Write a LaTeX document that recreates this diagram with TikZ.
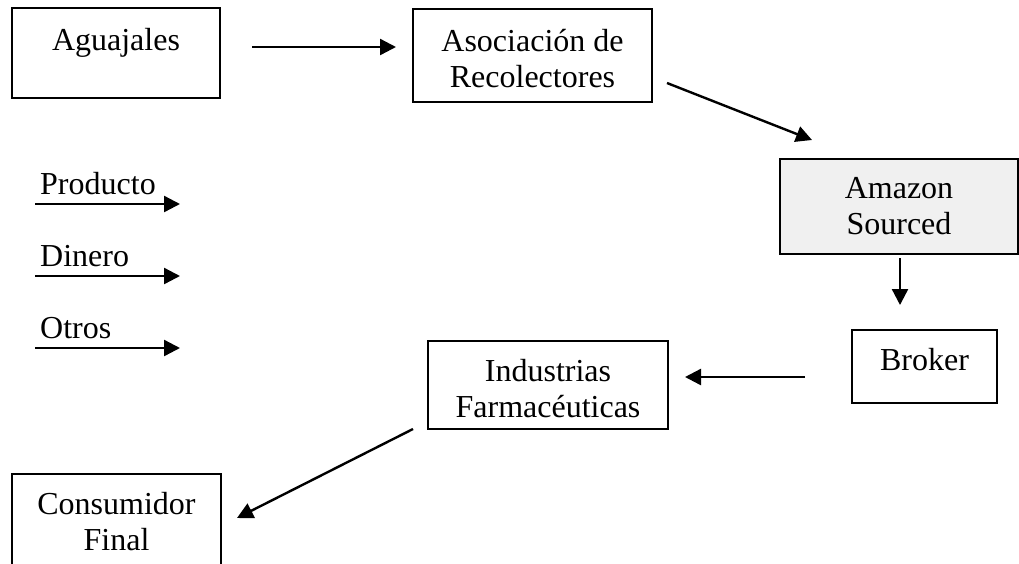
\documentclass[tikz,border=0pt]{standalone}
\usepackage{fontspec}
\setmainfont{Liberation Serif}
\usetikzlibrary{arrows.meta, positioning}
\tikzset{
	caja/.style={draw, line width=1.4pt, inner sep=0pt, align=center, text height=30pt},
	flujo/.style={line width=2.4pt, -{Triangle[length=16pt,width=16pt]}}
}
\newcommand{\lineas}[1]{\begin{tabular}[t]{@{}c@{}}#1\end{tabular}}

\begin{document}
\begin{tikzpicture}[
	x=1pt, y=-1pt,
	font=\fontsize{32}{36}\selectfont,
	gris/.style={fill=gray!12}]
	\useasboundingbox (0,0) rectangle (1019,563);
	\clip (0,0) rectangle (1019,563);
	% cajas
	\node[caja, minimum width=208pt, minimum height=90pt, text depth=36pt] (agua) at (116,53) {Aguajales};
	\node[caja, minimum width=239pt, minimum height=93pt, text depth=39pt] (asoc) at (532.5,55.5) {\lineas{Asociación de\\Recolectores}};
	\node[caja, gris, minimum width=238pt, minimum height=95pt, text depth=47pt] (amaz) at (899,206.5) {\lineas{Amazon\\Sourced}};
	\node[caja, minimum width=145pt, minimum height=73pt, text depth=23pt] (brok) at (924.5,366.5) {Broker};
	\node[caja, minimum width=240pt, minimum height=88pt, text depth=38pt] (indu) at (548,385) {\lineas{Industrias\\Farmacéuticas}};
	\node[caja, minimum width=209pt, minimum height=93pt, text depth=43pt] (cons) at (116.5,520.5) {\lineas{Consumidor\\Final}};
	% extremos de las flechas
	\coordinate (f1a) at (252,47);  \coordinate (f1b) at (396,47);
	\coordinate (f2a) at (667,83);  \coordinate (f2b) at (812,140);
	\coordinate (f3a) at (900,258); \coordinate (f3b) at (900,305);
	\coordinate (f4a) at (805,377); \coordinate (f4b) at (685,377);
	\coordinate (f5a) at (413,429); \coordinate (f5b) at (237,518);
	\draw[flujo] (f1a) -- (f1b);
	\draw[flujo] (f2a) -- (f2b);
	\draw[flujo] (f3a) -- (f3b);
	\draw[flujo] (f4a) -- (f4b);
	\draw[flujo] (f5a) -- (f5b);
	% leyenda
	\foreach \txt/\y [count=\i] in {Producto/204, Dinero/276, Otros/348} {
		\node[anchor=base west, inner sep=0pt] (ley\i) at (40,\y-10) {\txt};
		\coordinate (ley\i a) at (35,\y);
		\coordinate (ley\i b) at (180,\y);
		\draw[flujo] (ley\i a) -- (ley\i b);
	}
\end{tikzpicture}
\end{document}
